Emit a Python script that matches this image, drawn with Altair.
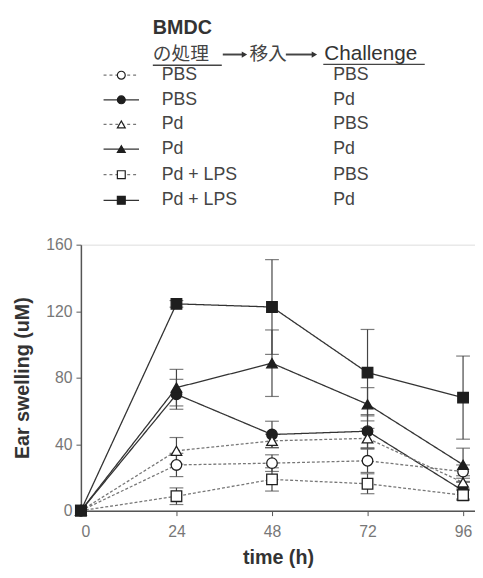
import altair as alt
import pandas as pd

times = [0, 24, 48, 72, 96]
series = ["PBS→PBS", "PBS→Pd", "Pd→PBS", "Pd→Pd", "Pd+LPS→PBS", "Pd+LPS→Pd"]
treatment = ["PBS", "PBS", "Pd", "Pd", "Pd + LPS", "Pd + LPS"]
challenge = ["PBS", "Pd", "PBS", "Pd", "PBS", "Pd"]

pbs_pbs = [0, 27.5, 28.6, 30.0, 23.5]
pbs_pd = [0, 70.0, 45.8, 47.8, 12.0]
pd_pbs = [0, 36.0, 42.0, 43.5, 17.0]
pd_pd = [0, 74.0, 88.7, 64.0, 27.6]
lps_pbs = [0, 8.7, 18.8, 16.2, 9.3]
lps_pd = [0, 124.4, 122.5, 83.0, 68.0]

err_pbs_pbs = [0, 7, 5, 7, 4]
err_pbs_pd = [0, 9, 8, 10, 5]
err_pd_pbs = [0, 8, 4, 6, 4]
err_pd_pd = [0, 11, 20, 10, 10]
err_lps_pbs = [0, 5, 7, 6, 3]
err_lps_pd = [0, 2, 28.5, 26, 25]

values = [pbs_pbs, pbs_pd, pd_pbs, pd_pd, lps_pbs, lps_pd]
errors = [err_pbs_pbs, err_pbs_pd, err_pd_pbs, err_pd_pd, err_lps_pbs, err_lps_pd]

rows = []
for s, vals, errs in zip(series, values, errors):
    for t, v, e in zip(times, vals, errs):
        rows.append({"series": s, "time": t, "value": v, "err": e,
                     "lo": v - e, "hi": v + e})
df = pd.DataFrame(rows)
caps = pd.concat([
    df[df.err > 0].assign(cap=df["lo"]),
    df[df.err > 0].assign(cap=df["hi"]),
])

shapes = ["circle", "circle", "triangle-up", "triangle-up", "square", "square"]
fills = ["white", "#1e1e1e", "white", "#1e1e1e", "white", "#1e1e1e"]
dashes = [[3, 2], [1, 0], [3, 2], [1, 0], [3, 2], [1, 0]]
line_colors = ["#777", "#333", "#777", "#333", "#777", "#333"]

FONT = "Liberation Sans"
xscale = alt.Scale(domain=[0, 99], nice=False)
yscale = alt.Scale(domain=[0, 160], nice=False)

x_enc = alt.X("time:Q", scale=xscale, axis=alt.Axis(
    values=times, title="time (h)", grid=False, labelFontSize=16,
    labelColor="#777", labelFont=FONT, titleFont=FONT, titleFontSize=20,
    titleFontWeight="bold", titleColor="#333", titlePadding=9,
    domainColor="#555", domainWidth=1.5, tickColor="#555", tickSize=5,
    labelPadding=8))
y_enc = alt.Y("value:Q", scale=yscale, axis=alt.Axis(
    values=[0, 40, 80, 120, 160], title="Ear swelling (uM)", grid=False,
    labelFontSize=16, labelColor="#777", labelFont=FONT, titleFont=FONT,
    titleFontSize=20, titleFontWeight="bold", titleColor="#333",
    titlePadding=13, domainColor="#555", domainWidth=1.5, tickColor="#555",
    tickSize=5, labelPadding=4))

base = alt.Chart(df).encode(x=x_enc, y=y_enc)

lines = base.mark_line(strokeWidth=1.3).encode(
    detail="series:N",
    color=alt.Color("series:N", scale=alt.Scale(domain=series, range=line_colors), legend=None),
    strokeDash=alt.StrokeDash("series:N", scale=alt.Scale(domain=series, range=dashes), legend=None),
)

bars = alt.Chart(df[df.err > 0]).mark_rule(color="#444", strokeWidth=1.2).encode(
    x=alt.X("time:Q", scale=xscale), y=alt.Y("lo:Q", scale=yscale), y2="hi:Q")

capmarks = alt.Chart(caps).mark_tick(color="#444", thickness=1.2, size=14, orient="horizontal").encode(
    x=alt.X("time:Q", scale=xscale), y=alt.Y("cap:Q", scale=yscale))

points = base.mark_point(filled=True, size=115, strokeWidth=1.3, opacity=1, stroke="#1e1e1e").encode(
    shape=alt.Shape("series:N", scale=alt.Scale(domain=series, range=shapes), legend=None),
    fill=alt.Fill("series:N", scale=alt.Scale(domain=series, range=fills), legend=None),
)

# ---- custom legend drawn above the plot (pixel offsets from plot top) ----
TOP = 244
one = pd.DataFrame({"k": [0]})
legend_layers = []

def txt(s, x, y, size=18, weight="normal", font=FONT, color="#444", baseline="middle"):
    return alt.Chart(pd.DataFrame({"t": [s]})).mark_text(
        align="left", baseline=baseline, fontSize=size, fontWeight=weight,
        font=font, color=color).encode(x=alt.value(x), y=alt.value(y - TOP), text="t:N")

def hrule(x1, x2, y, color="#444", width=1.5, dash=None):
    kw = dict(color=color, strokeWidth=width)
    if dash:
        kw["strokeDash"] = dash
    return alt.Chart(one).mark_rule(**kw).encode(
        x=alt.value(x1 - 82), x2=alt.value(x2 - 82), y=alt.value(y - TOP))

legend_layers.append(txt("BMDC", 155 - 82, 30, size=20, weight="bold", color="#333", baseline="alphabetic"))
legend_layers.append(txt("の処理", 155 - 82, 57, size=19, font="Noto Sans CJK JP", color="#444", baseline="alphabetic"))
legend_layers.append(txt("移入", 253 - 82, 57, size=19, font="Noto Sans CJK JP", color="#444", baseline="alphabetic"))
legend_layers.append(txt("Challenge", 329 - 82, 57, size=21, color="#333", baseline="alphabetic"))
legend_layers.append(hrule(155, 225, 62))
legend_layers.append(hrule(328, 431, 61))
legend_layers.append(hrule(226, 246, 51, width=2))
legend_layers.append(hrule(290, 317, 51, width=2))
for ax in [248, 319]:
    legend_layers.append(alt.Chart(one).mark_point(
        shape="triangle-right", filled=True, size=40, color="#333", opacity=1).encode(
        x=alt.value(ax - 82), y=alt.value(51 - TOP)))

row_y = [72, 97, 122, 147, 173, 199]
for i, ry in enumerate(row_y):
    dashed = i % 2 == 0
    legend_layers.append(hrule(105, 141, ry, color="#777" if dashed else "#333",
                               width=1.3, dash=[3, 3] if dashed else None))
    legend_layers.append(alt.Chart(one).mark_point(
        shape=shapes[i], filled=True, size=64, fill=fills[i], stroke="#1e1e1e",
        strokeWidth=1.2, opacity=1).encode(x=alt.value(123 - 82), y=alt.value(ry - TOP)))
    legend_layers.append(txt(treatment[i], 164 - 82, ry, size=18))
    legend_layers.append(txt(challenge[i], 338 - 82, ry, size=18))

chart = alt.layer(lines, bars, capmarks, points, *legend_layers).properties(
    width=400, height=270,
    autosize=alt.AutoSizeParams(type="none"),
    padding={"left": 74, "top": 236, "right": 0, "bottom": 56},
).configure_view(stroke=None).configure(background="white")

chart.save("out.html", embed_options={"renderer": "svg", "actions": False})
